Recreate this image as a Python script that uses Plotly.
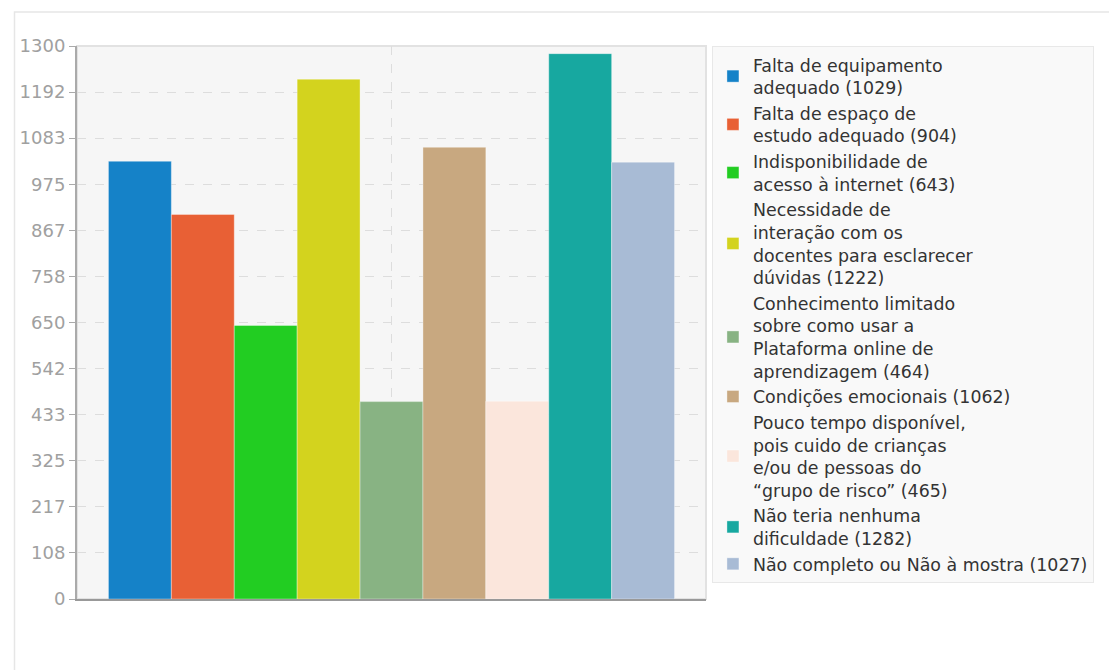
import plotly.graph_objects as go

categories = [""]
names = [
    "Falta de equipamento<br>adequado (1029)",
    "Falta de espaço de<br>estudo adequado (904)",
    "Indisponibilidade de<br>acesso à internet (643)",
    "Necessidade de<br>interação com os<br>docentes para esclarecer<br>dúvidas (1222)",
    "Conhecimento limitado<br>sobre como usar a<br>Plataforma online de<br>aprendizagem (464)",
    "Condições emocionais (1062)",
    "Pouco tempo disponível,<br>pois cuido de crianças<br>e/ou de pessoas do<br>“grupo de risco” (465)",
    "Não teria nenhuma<br>dificuldade (1282)",
    "Não completo ou Não à mostra (1027)",
]
values = [1029, 904, 643, 1222, 464, 1062, 465, 1282, 1027]
colors = ["#1582c8", "#e86035", "#22cd22", "#d3d31e", "#88b383",
          "#c8a880", "#fbe6dc", "#17a8a0", "#a8bbd5"]
tick_vals = [0, 108.33, 216.67, 325, 433.33, 541.67, 650, 758.33, 866.67, 975, 1083.33, 1191.67, 1300]
tick_text = ["0", "108", "217", "325", "433", "542", "650", "758", "867", "975", "1083", "1192", "1300"]

# page offset of the figure (body margin)
OFF = 8
W, H = 1117, 670
L, T = 72 - OFF, 46 - OFF
R = W - (706 - OFF)
B = H - (599 - OFF)
pw, ph = W - L - R, H - T - B

fig = go.Figure()
for n, v, c in zip(names, values, colors):
    fig.add_trace(go.Bar(
        x=categories, y=[v], name=n,
        marker=dict(color=c, line=dict(color="rgba(255,255,255,0.35)", width=1)),
    ))

fig.update_layout(
    width=W, height=H,
    margin=dict(l=L, r=R, t=T, b=B),
    paper_bgcolor="white",
    plot_bgcolor="#f6f6f6",
    barmode="group",
    bargap=0.1,
    bargroupgap=0,
    font=dict(family="DejaVu Sans", size=17, color="#333333"),
    showlegend=True,
    legend=dict(
        x=(712 - OFF - L) / pw, xanchor="left",
        y=1.0, yanchor="top",
        bgcolor="#f9f9f9", bordercolor="#e8e8e8", borderwidth=1,
        font=dict(family="DejaVu Sans", size=17.4, color="#333333"),
        tracegroupgap=0, itemwidth=30,
    ),
    xaxis=dict(
        showticklabels=False, ticks="",
        showgrid=True, gridcolor="#dddddd", griddash="dash", gridwidth=1,
        showline=True, linecolor="#999999", linewidth=2,
        zeroline=False,
    ),
    yaxis=dict(
        range=[0, 1300],
        tickvals=tick_vals, ticktext=tick_text,
        tickfont=dict(family="DejaVu Sans", size=18, color="#a0a0a0"),
        ticks="outside", ticklen=6, tickcolor="#aaaaaa", tickwidth=1,
        showgrid=True, gridcolor="#dddddd", griddash="dash", gridwidth=1,
        showline=True, linecolor="#aaaaaa", linewidth=2,
        zeroline=False,
    ),
    shapes=[
        dict(type="rect", xref="paper", yref="paper", x0=0, x1=1, y0=0, y1=1,
             line=dict(color="#e2e2e2", width=2), layer="below"),
        dict(type="rect", xref="paper", yref="paper",
             x0=(9 - OFF - L) / pw, x1=(1140 - OFF - L) / pw,
             y0=-(700 - (H - B)) / ph, y1=1 + (T - (12 - OFF)) / ph,
             line=dict(color="#e6e6e6", width=1.5), layer="below"),
    ],
)

fig.write_html("out.html")
